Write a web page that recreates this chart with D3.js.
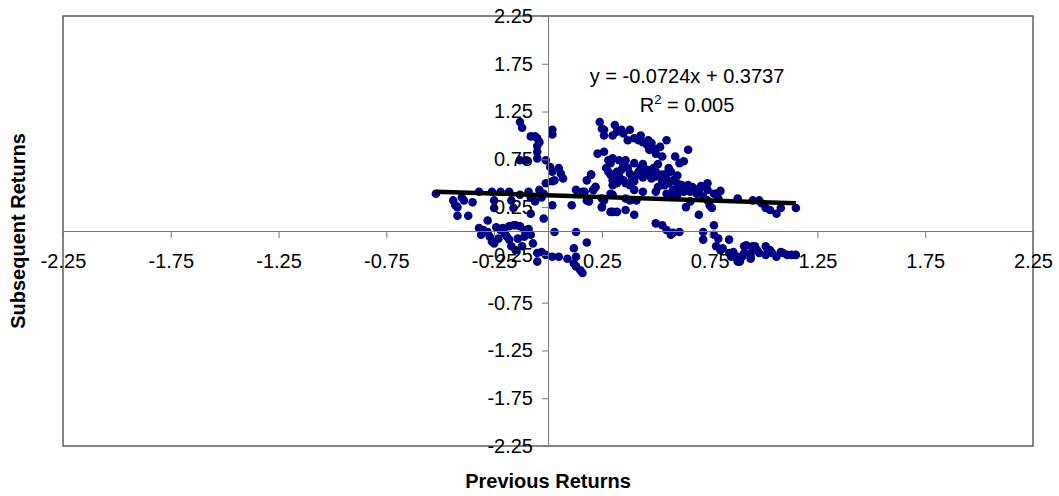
<!DOCTYPE html>
<html>
<head>
<meta charset="utf-8">
<script src="https://cdn.jsdelivr.net/npm/d3@7"></script>
<style>
  body { margin: 0; background: #fff; }
  svg { display: block; font-family: "Liberation Sans", Arial, sans-serif; }
</style>
</head>
<body>
<div class="chart"></div>
<script>
var width = 1059,
    height = 496;

// previous returns (x) and subsequent returns (y)
var prevReturns = [
  -0.52,-0.44,-0.42,-0.43,-0.42,-0.40,-0.39,-0.37,-0.32,-0.26,-0.25,-0.25,-0.28,-0.22,-0.18,-0.17,-0.16,-0.13,-0.09,-0.08,-0.06,-0.04,-0.03,-0.02,-0.08,
  -0.13,-0.12,-0.08,-0.06,-0.05,-0.04,-0.05,-0.05,-0.13,-0.10,-0.05,0.02,0.02,-0.01,0.01,0.02,0.05,0.06,0.07,-0.01,0.02,0.03,0.02,-0.02,
  -0.32,-0.30,-0.31,-0.28,-0.27,-0.26,-0.25,-0.22,-0.21,-0.19,-0.18,-0.18,-0.16,-0.15,-0.13,-0.11,-0.11,-0.10,-0.08,-0.17,-0.15,-0.12,-0.05,-0.05,-0.03,-0.01,0.02,0.03,
  0.05,0.09,0.12,0.13,0.12,0.13,0.15,0.16,0.13,0.11,0.13,0.16,0.18,0.20,0.21,0.22,0.25,0.26,0.29,0.30,0.30,0.31,0.18,
  0.24,0.25,0.26,0.26,0.31,0.32,0.30,0.34,0.35,0.38,0.37,0.40,0.42,0.43,0.44,0.46,0.465,0.48,0.49,0.47,0.50,0.52,0.55,0.53,0.59,0.61,0.63,0.65,
  0.23,0.26,0.28,0.29,0.30,0.33,0.35,0.36,0.40,0.28,0.29,0.32,0.33,0.30,0.32,0.35,0.36,0.38,0.40,0.40,
  0.42,0.43,0.46,0.47,0.49,0.50,0.52,0.53,0.55,0.57,0.53,0.54,0.51,0.58,0.60,0.61,0.63,0.58,0.60,0.64,0.66,0.67,0.69,
  0.74,0.74,0.77,0.78,0.74,0.75,0.76,0.70,0.64,0.66,0.60,0.57,0.55,0.50,0.44,0.41,0.38,0.36,0.30,0.29,0.32,0.36,0.40,
  0.18,0.20,0.17,0.21,0.25,0.25,0.19,0.22,
  0.88,0.95,0.98,0.99,1.01,1.03,1.06,1.08,1.15,
  0.38,0.39,0.41,0.44,0.45,0.48,0.50,0.55,0.56,0.62,0.65,0.68,0.70,0.34,0.37,0.27,0.44,0.51,0.56,0.60,0.71,0.72,0.80,0.79,
  0.50,0.53,0.55,0.57,0.58,0.61,0.72,0.72,0.77,0.77,0.79,0.78,0.80,0.81,0.84,0.84,0.86,0.87,0.89,0.91,
  0.92,0.94,0.94,0.95,0.97,0.98,1.01,1.01,1.03,1.04,1.06,1.08,1.09,1.11,1.13,1.15,0.85,0.88,0.91,0.94,
  0.90,0.96,1.02,0.88,
  -0.23,-0.20,-0.14,-0.09,-0.24,-0.35,-0.07
];

var nextReturns = [
  0.39,0.32,0.25,0.27,0.16,0.35,0.32,0.16,0.41,0.41,0.32,0.24,0.11,0.41,0.41,0.32,0.24,0.38,0.41,0.35,0.31,0.43,0.35,0.39,0.18,
  1.14,1.08,0.99,0.99,0.97,0.93,0.89,0.83,0.74,0.74,0.76,1.06,1.01,0.74,0.67,0.62,0.66,0.60,0.55,0.50,0.52,0.53,0.27,0.13,
  0.03,0.01,-0.04,-0.01,-0.06,-0.11,-0.13,0.01,0.03,-0.06,-0.09,0.05,0.06,0.06,0.05,0.01,-0.06,-0.02,-0.04,-0.16,-0.20,-0.16,-0.23,-0.32,-0.22,-0.25,-0.27,-0.01,
  -0.27,-0.29,-0.18,-0.27,-0.34,-0.37,-0.41,-0.44,-0.01,0.27,0.43,0.41,0.32,0.59,0.43,0.46,0.25,0.32,0.39,0.20,0.48,0.59,-0.12,
  1.14,1.07,1.00,1.06,1.11,1.04,1.00,1.06,1.02,1.06,0.95,0.97,0.95,1.00,0.93,0.90,0.95,0.92,0.86,0.85,0.81,0.88,0.95,0.78,0.78,0.71,0.73,0.85,
  0.81,0.83,0.74,0.71,0.76,0.74,0.69,0.74,0.71,0.62,0.59,0.62,0.57,0.53,0.50,0.53,0.50,0.48,0.52,0.43,
  0.62,0.66,0.64,0.59,0.66,0.62,0.57,0.59,0.60,0.62,0.52,0.48,0.46,0.53,0.50,0.46,0.41,0.43,0.39,0.45,0.41,0.46,0.39,
  0.50,0.43,0.39,0.39,0.32,0.27,0.24,0.17,0.25,0.31,0.38,0.38,0.39,0.41,0.41,0.32,0.32,0.34,0.38,0.20,0.20,0.22,0.17,
  0.53,0.59,0.41,0.43,0.34,0.25,0.31,0.46,
  0.34,0.32,0.32,0.29,0.24,0.22,0.18,0.24,0.24,
  0.60,0.55,0.58,0.56,0.60,0.55,0.57,0.55,0.50,0.48,0.48,0.44,0.42,0.64,0.66,0.66,0.70,0.70,0.66,0.58,0.47,0.36,0.42,0.34,
  0.08,0.06,0.01,-0.04,-0.02,-0.01,-0.01,-0.09,0.06,-0.04,-0.08,-0.16,-0.20,-0.18,-0.09,-0.23,-0.22,-0.27,-0.32,-0.16,
  -0.15,-0.23,-0.27,-0.16,-0.20,-0.23,-0.16,-0.25,-0.20,-0.23,-0.27,-0.22,-0.23,-0.25,-0.25,-0.25,-0.27,-0.27,-0.23,-0.29,
  -0.27,-0.16,-0.20,-0.32,
  -0.08,-0.03,-0.08,0.02,0.04,0.30,-0.13
];

var xTicks = [-2.25, -1.75, -1.25, -0.75, -0.25, 0.25, 0.75, 1.25, 1.75, 2.25];
var yTicks = [-2.25, -1.75, -1.25, -0.75, -0.25, 0.25, 0.75, 1.25, 1.75, 2.25];

var slope = -0.0724,
    intercept = 0.3737,
    rSquared = 0.005;

var points = prevReturns.map(function (d, i) { return { x: d, y: nextReturns[i] }; });

var svg = d3.select(".chart")
    .append("svg")
    .attr("width", width)
    .attr("height", height);

var x = d3.scaleLinear().domain([-2.25, 2.25]).range([63, 1033]);
var y = d3.scaleLinear().domain([-2.25, 2.25]).range([446, 16]);

// plot area frame
svg.append("rect")
    .attr("x", x(-2.25))
    .attr("y", y(2.25))
    .attr("width", x(2.25) - x(-2.25))
    .attr("height", y(-2.25) - y(2.25))
    .attr("fill", "none")
    .attr("stroke", "#5f5f5f")
    .attr("stroke-width", 1.5);

// dots
svg.append("g")
    .selectAll("circle")
    .data(points)
    .join("circle")
    .attr("cx", d => x(d.x))
    .attr("cy", d => y(d.y))
    .attr("r", 4.3)
    .attr("fill", "#000080");

var fmt = d => d.toFixed(2);

var xAxis = svg.append("g")
    .attr("transform", `translate(0, ${y(0)})`)
    .call(d3.axisBottom(x).tickValues(xTicks).tickFormat(fmt).tickSize(7).tickSizeOuter(0).tickPadding(16));

var yAxis = svg.append("g")
    .attr("transform", `translate(${x(0)}, 0)`)
    .call(d3.axisLeft(y).tickValues(yTicks).tickFormat(fmt).tickSize(6).tickSizeOuter(0).tickPadding(9));

[xAxis, yAxis].forEach(function (ax) {
    ax.select(".domain").attr("stroke", "#777");
    ax.selectAll(".tick line").attr("stroke", "#777");
    ax.selectAll(".tick text")
        .attr("fill", "#000")
        .style("font-size", "20px")
        .style("font-family", '"Liberation Sans", Arial, sans-serif');
});

// linear trendline across the data range
var xr = d3.extent(prevReturns);
svg.append("line")
    .attr("x1", x(xr[0]))
    .attr("y1", y(slope * xr[0] + intercept))
    .attr("x2", x(xr[1]))
    .attr("y2", y(slope * xr[1] + intercept))
    .attr("stroke", "#000")
    .attr("stroke-width", 4.5);

// equation label
svg.append("text")
    .attr("x", x(0.645))
    .attr("y", y(1.55))
    .attr("text-anchor", "middle")
    .style("font-size", "20px")
    .text("y = " + slope + "x + " + intercept);

var r2 = svg.append("text")
    .attr("x", x(0.645))
    .attr("y", y(1.245))
    .attr("text-anchor", "middle")
    .style("font-size", "20px");
r2.append("tspan").text("R");
r2.append("tspan").attr("dy", -8).style("font-size", "13px").text("2");
r2.append("tspan").attr("dy", 8).text(" = " + rSquared.toFixed(3));

// axis titles
svg.append("text")
    .attr("x", x(0))
    .attr("y", 488)
    .attr("text-anchor", "middle")
    .style("font-size", "20px")
    .style("font-weight", "bold")
    .text("Previous Returns");

svg.append("text")
    .attr("transform", `translate(25, ${y(0)}) rotate(-90)`)
    .attr("text-anchor", "middle")
    .style("font-size", "20px")
    .style("font-weight", "bold")
    .text("Subsequent Returns");
</script>
</body>
</html>
